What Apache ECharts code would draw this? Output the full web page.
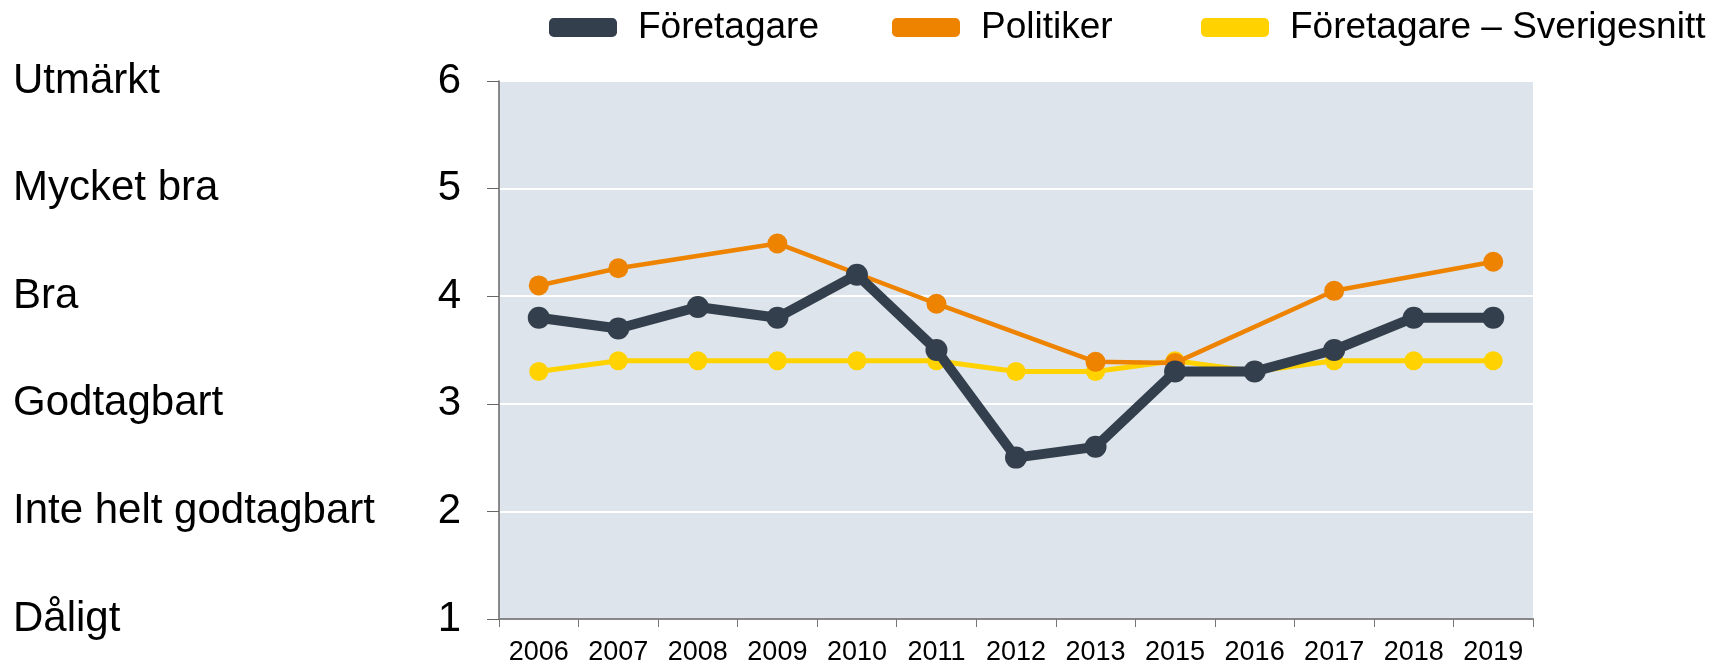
<!DOCTYPE html>
<html><head><meta charset="utf-8">
<script src="https://cdn.jsdelivr.net/npm/echarts@6/dist/echarts.min.js"></script>
<style>html,body{margin:0;padding:0;background:#fff}#c{width:1711px;height:666px}</style>
</head><body><div id="c"></div>
<script>
var years = ['2006','2007','2008','2009','2010','2011','2012','2013','2015','2016','2017','2018','2019'];
var foretagare = [3.8,3.7,3.9,3.8,4.2,3.5,2.5,2.6,3.3,3.3,3.5,3.8,3.8];
var politiker = [4.1,4.26,null,4.49,null,3.93,null,3.39,3.38,null,4.05,null,4.32];
var sverigesnitt = [3.3,3.4,3.4,3.4,3.4,3.4,3.3,3.3,3.4,3.3,3.4,3.4,3.4];
var ratingLabels = {1:'Dåligt',2:'Inte helt godtagbart',3:'Godtagbart',4:'Bra',5:'Mycket bra',6:'Utmärkt'};
var seriesNames = ['Företagare','Politiker','Företagare – Sverigesnitt'];

var FONT = 'Liberation Sans, Arial, sans-serif';
var cDark = '#333f4c', cOrange = '#ee8300', cYellow = '#ffd200';
var chart = echarts.init(document.getElementById('c'));
function lg(name, left){
  return {data:[{name:name,icon:'roundRect'}], left:left, top:4, itemWidth:68, itemHeight:19, itemGap:0,
    textStyle:{fontFamily:FONT,fontSize:37,color:'#000',padding:[0,0,0,16]}, selectedMode:false};
}
chart.setOption({
  animation:false,
  legend:[lg(seriesNames[0],544), lg(seriesNames[1],887), lg(seriesNames[2],1196)],
  grid:{left:499, right:178, top:81, bottom:44, show:true, backgroundColor:'#dde4eb', borderWidth:0},
  xAxis:{type:'category', data:years, boundaryGap:true,
    axisLine:{lineStyle:{color:'#888',width:2}},
    axisTick:{show:true,length:8,interval:0,lineStyle:{color:'#777',width:1}},
    axisLabel:{fontFamily:FONT,fontSize:27,color:'#000',margin:20,interval:0,hideOverlap:false}},
  yAxis:[{type:'value', min:1, max:6, interval:1,
    axisLine:{show:true,lineStyle:{color:'#666',width:1.5}},
    axisTick:{show:true,length:12,lineStyle:{color:'#666'}},
    splitLine:{lineStyle:{color:'#fff',width:2}},
    axisLabel:{fontFamily:FONT,fontSize:42,color:'#000',margin:38}},
   {type:'value', min:1, max:6, interval:1, position:'left', offset:486,
    axisLine:{show:false}, axisTick:{show:false}, splitLine:{show:false},
    axisLabel:{fontFamily:FONT,fontSize:42,color:'#000',margin:0,align:'left',
      formatter:function(v){return ratingLabels[v]||'';}}}],
  series:[
    {name:seriesNames[2], type:'line', data:sverigesnitt, z:2, symbol:'circle', symbolSize:19,
      lineStyle:{color:cYellow,width:5}, itemStyle:{color:cYellow}},
    {name:seriesNames[1], type:'line', data:politiker, connectNulls:true, z:3, symbol:'circle', symbolSize:20,
      lineStyle:{color:cOrange,width:4.5}, itemStyle:{color:cOrange}},
    {name:seriesNames[0], type:'line', data:foretagare, z:4, symbol:'circle', symbolSize:22,
      lineStyle:{color:cDark,width:10}, itemStyle:{color:cDark}}
  ]
});
</script></body></html>
